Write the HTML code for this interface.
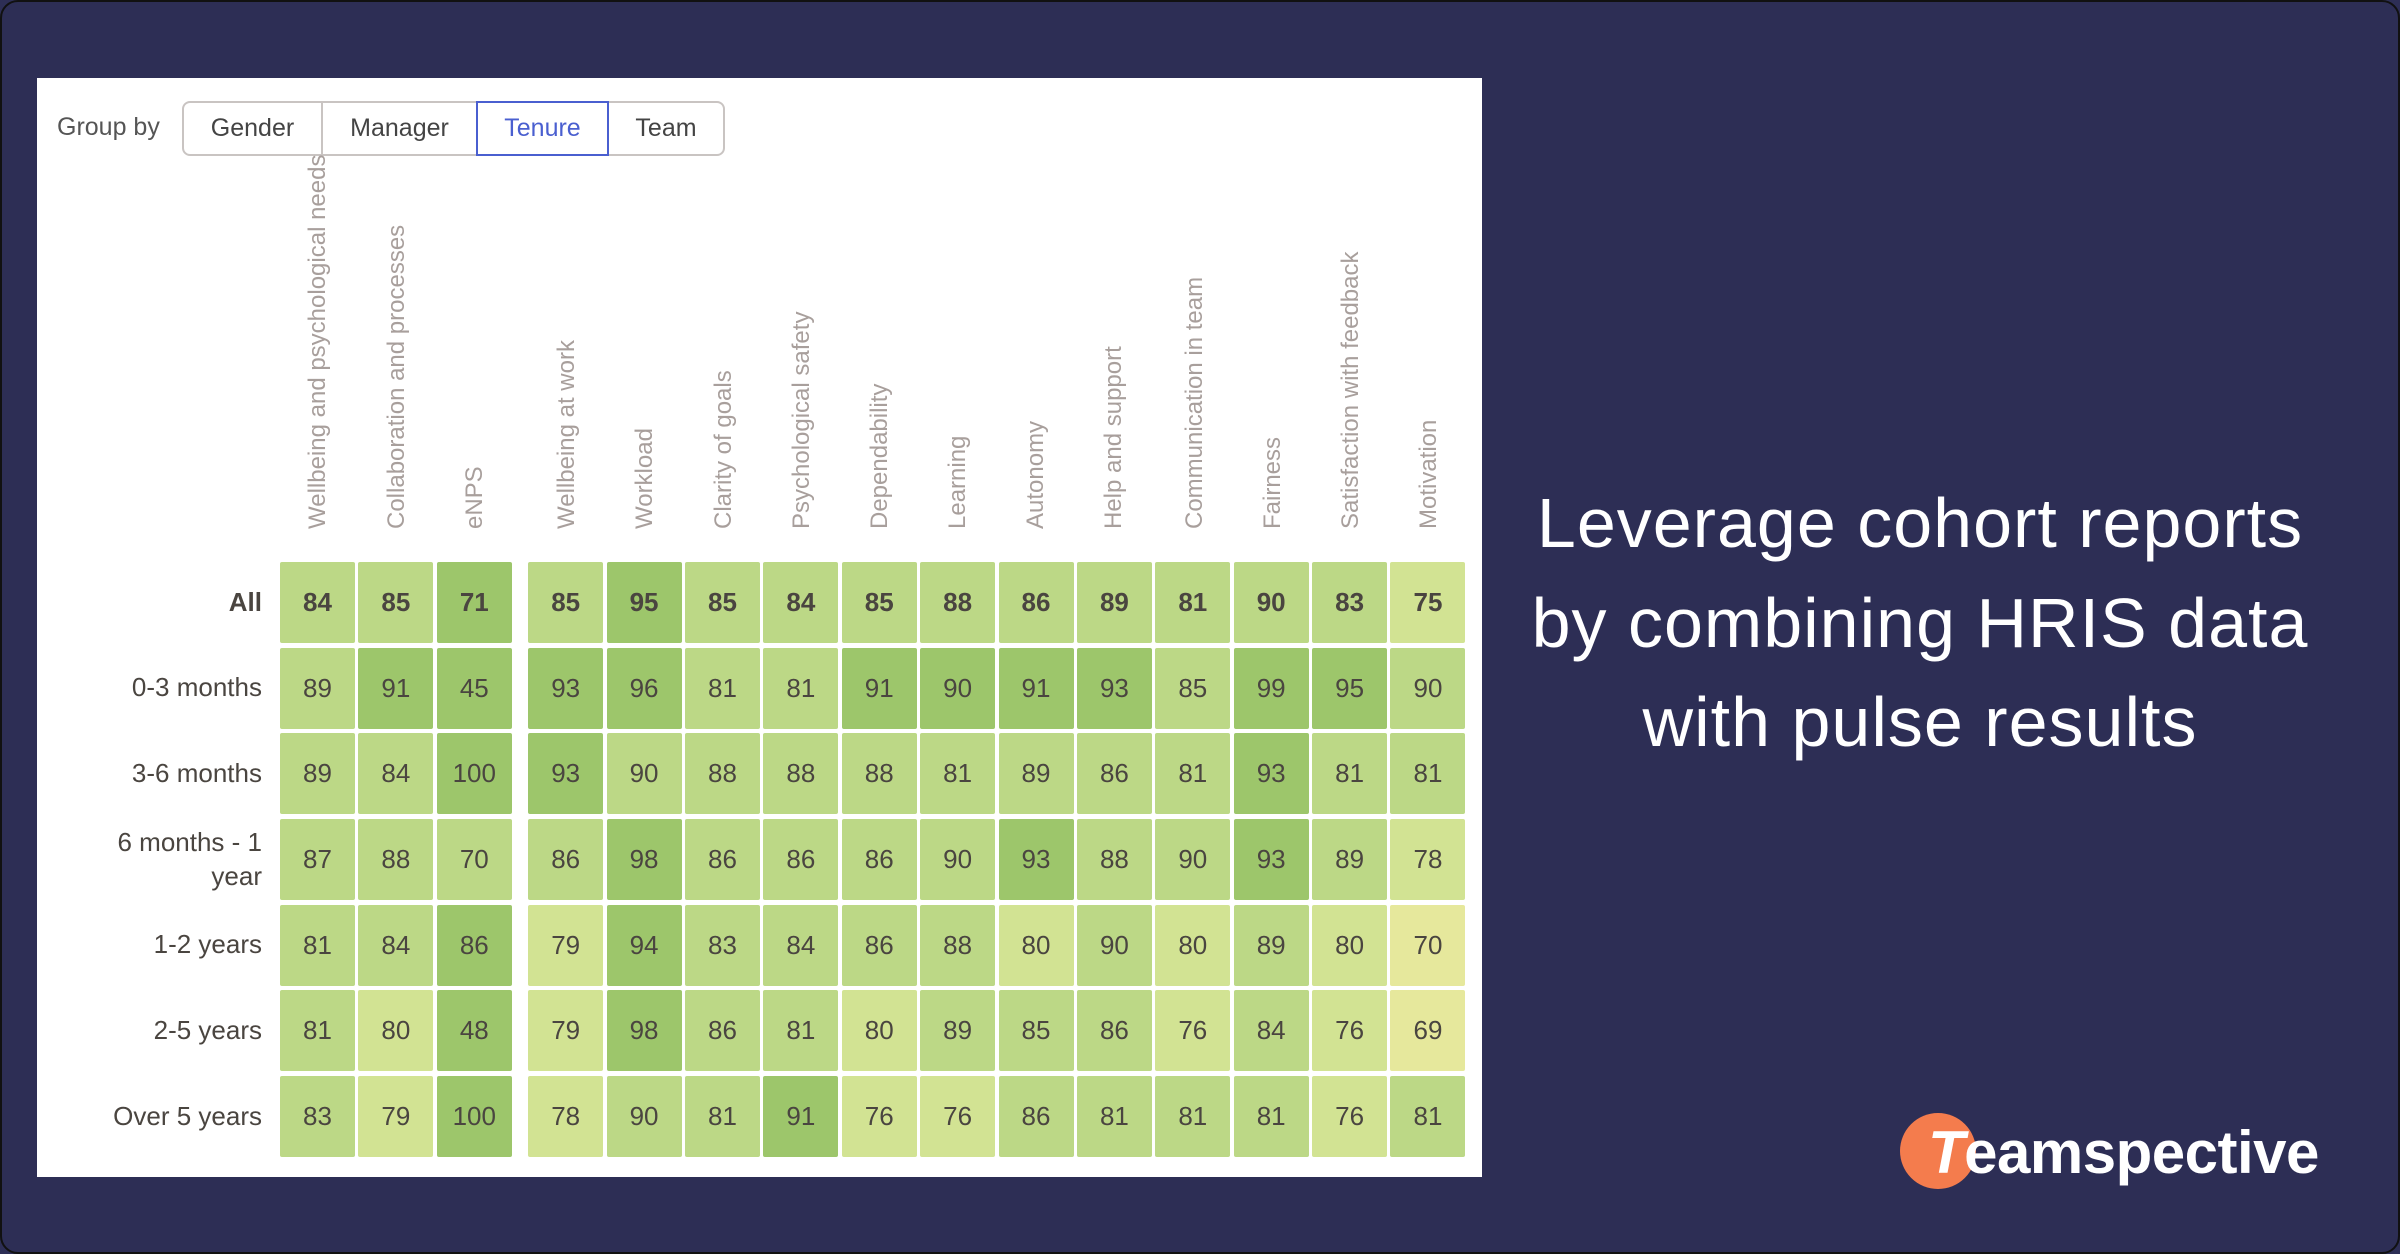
<!DOCTYPE html>
<html><head><meta charset="utf-8"><style>
*{margin:0;padding:0;box-sizing:border-box}
body{width:2400px;height:1254px;background:#2d2e55;font-family:"Liberation Sans",sans-serif;position:relative;overflow:hidden}
.frame{position:absolute;left:0;top:0;width:2400px;height:1254px;border:2px solid #111;border-radius:18px;}
.panel{position:absolute;left:37px;top:78px;width:1445px;height:1099px;background:#fff}
.gb{position:absolute;left:57px;top:113px;font-size:25px;color:#555}
.btns{position:absolute;left:182px;top:101px;width:543px;height:55px;border:2px solid #c9c4c2;border-radius:8px;display:flex}
.btns div{font-size:25px;color:#444;display:flex;align-items:center;justify-content:center;height:100%}
.hdr{position:absolute;top:529px;width:0;height:0}
.hdr span{position:absolute;left:-14px;top:0;transform-origin:0 0;transform:rotate(-90deg);white-space:nowrap;font-size:24px;color:#a89f9c}
.row{position:absolute;left:280px;display:flex;height:81px}
.row div{width:75px;height:81px;margin-right:3.4px;display:flex;align-items:center;justify-content:center;font-size:26px;color:#4a4540;border-radius:2px}
.row div:nth-child(4){margin-left:13px}
.a{background:#9dc66b}.b{background:#bcd886}.c{background:#d2e393}.d{background:#e6e89c}
.bold div{font-weight:bold}
.lbl{position:absolute;right:2138px;width:220px;text-align:right;font-size:26px;color:#4a4540;line-height:34px}
.head{position:absolute;left:1470px;width:900px;text-align:center;color:#fff;font-size:70px;letter-spacing:1px;line-height:99.5px;top:474px}
.logo{position:absolute;left:1900px;top:1113px;width:76px;height:76px;background:#f47c4d;border-radius:50%}
.lt{position:absolute;left:1928px;top:1118px;font-size:60px;font-weight:bold;color:#fff;letter-spacing:-0.5px}
</style></head><body>
<div class="frame"></div>
<div class="panel"></div>
<div class="gb">Group by</div>
<div class="btns">
<div style="width:139px;border-right:2px solid #c9c4c2">Gender</div>
<div style="width:153px">Manager</div>
<div style="width:133px;border:2px solid #4a5fd0;color:#4a5fd0;height:55px;margin-top:-2px">Tenure</div>
<div style="width:114px">Team</div>
</div>
<div class="hdr" style="left:318px"><span>Wellbeing and psychological needs</span></div>
<div class="hdr" style="left:397px"><span>Collaboration and processes</span></div>
<div class="hdr" style="left:475px"><span>eNPS</span></div>
<div class="hdr" style="left:567px"><span>Wellbeing at work</span></div>
<div class="hdr" style="left:645px"><span>Workload</span></div>
<div class="hdr" style="left:724px"><span>Clarity of goals</span></div>
<div class="hdr" style="left:802px"><span>Psychological safety</span></div>
<div class="hdr" style="left:880px"><span>Dependability</span></div>
<div class="hdr" style="left:958px"><span>Learning</span></div>
<div class="hdr" style="left:1036px"><span>Autonomy</span></div>
<div class="hdr" style="left:1114px"><span>Help and support</span></div>
<div class="hdr" style="left:1195px"><span>Communication in team</span></div>
<div class="hdr" style="left:1273px"><span>Fairness</span></div>
<div class="hdr" style="left:1351px"><span>Satisfaction with feedback</span></div>
<div class="hdr" style="left:1429px"><span>Motivation</span></div>

<div class="lbl" style="top:585px;font-weight:bold">All</div>
<div class="lbl" style="top:670px">0-3 months</div>
<div class="lbl" style="top:756px">3-6 months</div>
<div class="lbl" style="top:825px">6 months - 1<br>year</div>
<div class="lbl" style="top:927px">1-2 years</div>
<div class="lbl" style="top:1013px">2-5 years</div>
<div class="lbl" style="top:1099px">Over 5 years</div>

<div class="row bold" style="top:562px"><div class="b">84</div><div class="b">85</div><div class="a">71</div><div class="b">85</div><div class="a">95</div><div class="b">85</div><div class="b">84</div><div class="b">85</div><div class="b">88</div><div class="b">86</div><div class="b">89</div><div class="b">81</div><div class="b">90</div><div class="b">83</div><div class="c">75</div></div>
<div class="row" style="top:648px"><div class="b">89</div><div class="a">91</div><div class="a">45</div><div class="a">93</div><div class="a">96</div><div class="b">81</div><div class="b">81</div><div class="a">91</div><div class="a">90</div><div class="a">91</div><div class="a">93</div><div class="b">85</div><div class="a">99</div><div class="a">95</div><div class="b">90</div></div>
<div class="row" style="top:733px"><div class="b">89</div><div class="b">84</div><div class="a">100</div><div class="a">93</div><div class="b">90</div><div class="b">88</div><div class="b">88</div><div class="b">88</div><div class="b">81</div><div class="b">89</div><div class="b">86</div><div class="b">81</div><div class="a">93</div><div class="b">81</div><div class="b">81</div></div>
<div class="row" style="top:819px"><div class="b">87</div><div class="b">88</div><div class="b">70</div><div class="b">86</div><div class="a">98</div><div class="b">86</div><div class="b">86</div><div class="b">86</div><div class="b">90</div><div class="a">93</div><div class="b">88</div><div class="b">90</div><div class="a">93</div><div class="b">89</div><div class="c">78</div></div>
<div class="row" style="top:905px"><div class="b">81</div><div class="b">84</div><div class="a">86</div><div class="c">79</div><div class="a">94</div><div class="b">83</div><div class="b">84</div><div class="b">86</div><div class="b">88</div><div class="c">80</div><div class="b">90</div><div class="c">80</div><div class="b">89</div><div class="c">80</div><div class="d">70</div></div>
<div class="row" style="top:990px"><div class="b">81</div><div class="c">80</div><div class="a">48</div><div class="c">79</div><div class="a">98</div><div class="b">86</div><div class="b">81</div><div class="c">80</div><div class="b">89</div><div class="b">85</div><div class="b">86</div><div class="c">76</div><div class="b">84</div><div class="c">76</div><div class="d">69</div></div>
<div class="row" style="top:1076px"><div class="b">83</div><div class="c">79</div><div class="a">100</div><div class="c">78</div><div class="b">90</div><div class="b">81</div><div class="a">91</div><div class="c">76</div><div class="c">76</div><div class="b">86</div><div class="b">81</div><div class="b">81</div><div class="b">81</div><div class="c">76</div><div class="b">81</div></div>

<div class="head">Leverage cohort reports<br>by combining HRIS data<br>with pulse results</div>
<div class="logo"></div>
<div class="lt"><i>T</i>eamspective</div>
</body></html>
